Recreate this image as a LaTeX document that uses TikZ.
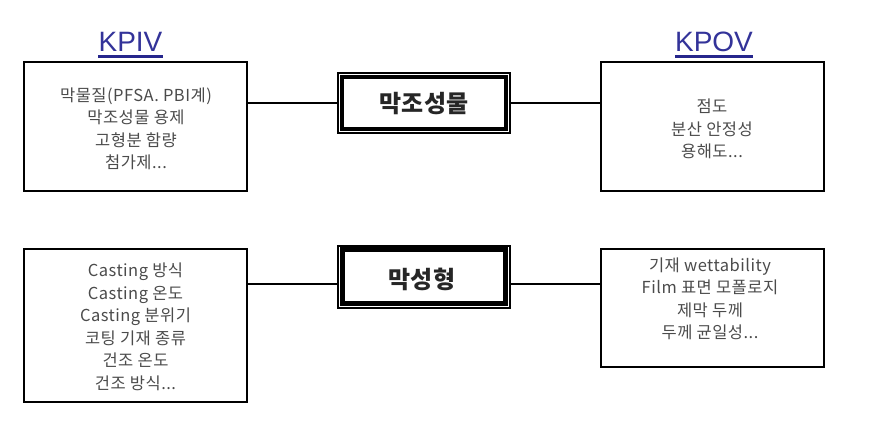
\documentclass[tikz,border=0pt]{standalone}
\usepackage{fontspec}
\setmainfont{Liberation Sans}
\newfontfamily\krfont[LetterSpace=3]{Noto Sans CJK KR}
\newfontfamily\krbold{Noto Sans CJK KR}
\definecolor{titleblue}{rgb}{0.2,0.2,0.6}
\definecolor{bodygray}{RGB}{75,75,75}
\begin{document}
\begin{tikzpicture}[x=1pt,y=-1pt,
  listbox/.style={draw=black,line width=2pt,minimum width=223pt,inner sep=0pt},
  listtext/.style={font=\krfont\fontsize{16.5}{22.5}\selectfont,text=bodygray,align=center},
  hubouter/.style={draw=black,line width=1.2pt,minimum width=172pt,minimum height=60pt,inner sep=0pt},
  hubtext/.style={font=\krbold\bfseries\fontsize{24}{28}\selectfont,text=black!85},
  conn/.style={line width=2pt},
  heading/.style={font=\fontsize{28}{32}\selectfont,text=titleblue,inner sep=0pt,anchor=base},
  underbar/.style={draw=blue!40!darkgray,line width=3pt}]
\useasboundingbox (0,0) rectangle (873,441);
% titles
\node[heading] (kpiv) at (130.5,52) {KPIV};
\node[heading] (kpov) at (714,52) {KPOV};
\draw[underbar] ([yshift=-4.5pt]kpiv.base west) -- ([yshift=-4.5pt]kpiv.base east);
\draw[underbar] ([yshift=-4.5pt]kpov.base west) -- ([yshift=-4.5pt]kpov.base east);
% row 1
\node[listbox,minimum height=129pt] (lt) at (135.5,126.5) {};
\node[listtext] (ltt) at (136,129) {막물질(PFSA. PBI계)\\막조성물 용제\\고형분 함량\\첨가제...};
\node[listbox,minimum height=129pt] (rt) at (712,126.5) {};
\node[listtext] (rtt) at (712,129) {점도\\분산 안정성\\용해도...};
\node[hubouter] (ht) at (424,103) {};
\draw[line width=4pt] ([shift={(5,4.5)}]ht.north west) rectangle ([shift={(-5,-5)}]ht.south east);
\node[hubtext] (htt) at (424,104) {막조성물};
\draw[conn] (lt.east |- ht.west) -- (ht.west);
\draw[conn] (ht.east) -- (rt.west |- ht.east);
% row 2
\node[listbox,minimum height=153pt] (lb) at (135.5,325.5) {};
\node[listtext] (lbt) at (135.5,327) {Casting 방식\\Casting 온도\\Casting 분위기\\코팅 기재 종류\\건조 온도\\건조 방식...};
\node[listbox,minimum height=118pt] (rb) at (712,308) {};
\node[listtext] (rbt) at (710,299) {기재 wettability\\Film 표면 모폴로지\\제막 두께\\두께 균일성...};
\node[hubouter,minimum height=62pt] (hb) at (424,277) {};
\draw[line width=4.5pt] ([shift={(5,4)}]hb.north west) rectangle ([shift={(-5,-5)}]hb.south east);
\node[hubtext] (hbt) at (422,279) {막성형};
\draw[conn] (lb.east |- 0,284) coordinate (lbc) -- (hb.west |- lbc);
\draw[conn] (hb.east |- lbc) -- (rb.west |- lbc);
\end{tikzpicture}
\end{document}
